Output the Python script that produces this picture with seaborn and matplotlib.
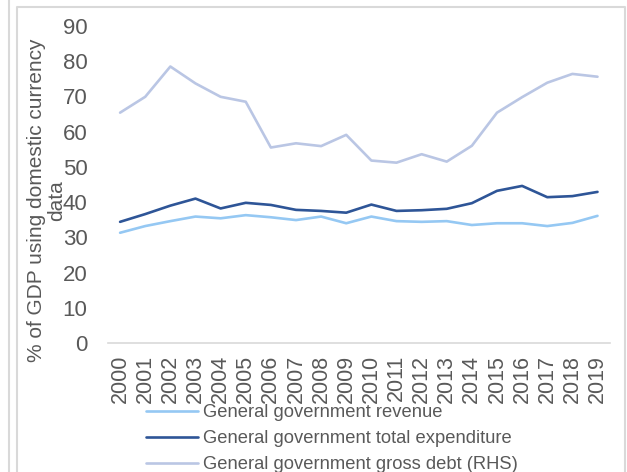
import matplotlib
matplotlib.use("Agg")
import matplotlib.pyplot as plt
from matplotlib.lines import Line2D
import seaborn as sns
import pandas as pd

years = list(range(2000, 2020))
revenue = [31.3, 33.2, 34.6, 35.9, 35.4, 36.3, 35.7, 34.9, 35.9, 34.0,
           35.9, 34.6, 34.4, 34.6, 33.5, 34.0, 34.0, 33.2, 34.1, 36.1]
expenditure = [34.4, 36.6, 39.0, 41.0, 38.2, 39.8, 39.2, 37.8, 37.5, 37.0,
               39.3, 37.5, 37.7, 38.1, 39.7, 43.2, 44.6, 41.4, 41.7, 42.9]
gross_debt = [65.4, 69.9, 78.5, 73.7, 69.9, 68.5, 55.5, 56.7, 55.9, 59.1,
              51.8, 51.2, 53.6, 51.5, 56.0, 65.4, 69.8, 73.9, 76.4, 75.6]
series_names = ["General government revenue",
                "General government total expenditure",
                "General government gross debt (RHS)"]
y_ticks = list(range(0, 100, 10))
y_label_lines = ["% of GDP using domestic currency", "data"]

colors = ["#95c8f3", "#2e5597", "#bac6e4"]

df = pd.DataFrame({
    "year": years * 3,
    "value": revenue + expenditure + gross_debt,
    "series": [series_names[0]] * 20 + [series_names[1]] * 20 + [series_names[2]] * 20,
})

sns.set_theme(style="white")
plt.rcParams["font.family"] = ["Liberation Sans", "DejaVu Sans"]
text_color = "#595959"

fig = plt.figure(figsize=(6.27, 4.72), dpi=100)
ax = fig.add_axes([0.1715, 0.2733, 0.8015, 0.6716])

sns.lineplot(data=df, x="year", y="value", hue="series", palette=colors,
             hue_order=series_names, linewidth=1.9, ax=ax, legend=False)

ax.set_xlim(1999.5, 2019.5)
ax.set_ylim(0, 90)
ax.set_yticks(y_ticks)
ax.set_xticks(years)
ax.set_xticklabels([str(y) for y in years], rotation=90)
ax.tick_params(axis="y", length=0, pad=14.5, labelsize=16, labelcolor=text_color)
ax.tick_params(axis="x", length=0, pad=8.5, labelsize=15.5, labelcolor=text_color)
ax.set_xlabel("")
ax.set_ylabel("")
for side in ["top", "right", "left"]:
    ax.spines[side].set_visible(False)
ax.spines["bottom"].set_color("#d9d9d9")
ax.spines["bottom"].set_linewidth(1.2)

# two-line y-axis title, one text per line
for x_px, line in zip([37, 57], y_label_lines):
    fig.text(x_px / 627, 0.576, line, rotation=90, ha="center", va="center",
             fontsize=15, color=text_color)

handles = [Line2D([0], [0], color=c, linewidth=1.9) for c in colors]
fig.legend(handles, series_names, loc="upper left",
           bbox_to_anchor=(0.233, 0.144), frameon=False, fontsize=13.2,
           handlelength=2.85, handletextpad=0.27, labelspacing=0.5,
           labelcolor=text_color, borderaxespad=0, borderpad=0)

# panel frame lines
frame_color = "#d9d9d9"
fig.add_artist(Line2D([9 / 627, 9 / 627], [0, 1], color=frame_color, linewidth=1.5,
                      transform=fig.transFigure))
fig.add_artist(Line2D([17 / 627, 17 / 627, 625 / 627, 625 / 627],
                      [0, 1 - 7 / 472, 1 - 7 / 472, 0], color=frame_color,
                      linewidth=1.5, transform=fig.transFigure))

fig.savefig("out.png", dpi=100)
